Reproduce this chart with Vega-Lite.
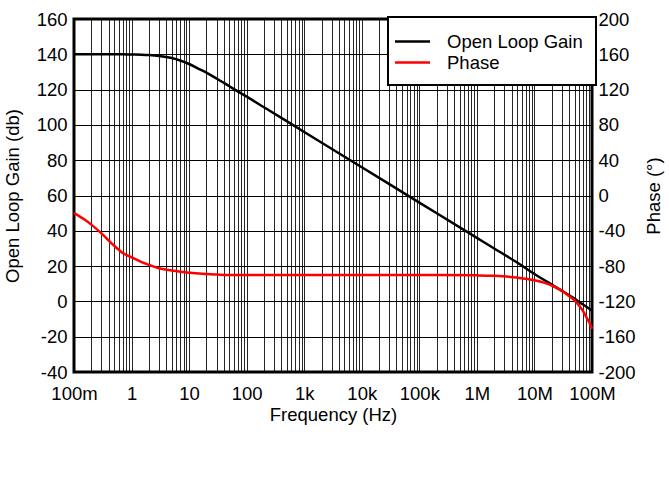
{
  "$schema": "https://vega.github.io/schema/vega-lite/v6.json",
  "width": 518,
  "height": 353,
  "autosize": {"type": "none"},
  "padding": {"left": 74, "top": 19, "right": 77, "bottom": 108},
  "background": "white",
  "config": {
    "font": "Liberation Sans",
    "view": {"stroke": "black", "strokeWidth": 3, "fill": "white"},
    "axis": {"labelFont": "Liberation Sans", "titleFont": "Liberation Sans", "labelFontSize": 18.5, "titleFontSize": 18.5, "labelColor": "black", "titleColor": "black", "titleFontWeight": "normal", "ticks": false, "domain": false},
    "legend": {"labelFont": "Liberation Sans", "labelFontSize": 18.5, "labelColor": "black", "strokeWidth": 2}
  },
  "data": {"values": [
    {"f": 0.1, "gain": 140, "phase": -20},
    {"f": 0.15, "gain": 140, "phase": -27},
    {"f": 0.2, "gain": 140, "phase": -33},
    {"f": 0.3, "gain": 140, "phase": -43},
    {"f": 0.5, "gain": 140, "phase": -57},
    {"f": 0.7, "gain": 140, "phase": -65},
    {"f": 1, "gain": 139.9, "phase": -70},
    {"f": 1.5, "gain": 139.8, "phase": -75.5},
    {"f": 2, "gain": 139.6, "phase": -78.5},
    {"f": 3, "gain": 139.1, "phase": -82.5},
    {"f": 5, "gain": 137.9, "phase": -85},
    {"f": 7, "gain": 136.5, "phase": -86.5},
    {"f": 10, "gain": 134.5, "phase": -87.5},
    {"f": 15, "gain": 131.6, "phase": -88.5},
    {"f": 20, "gain": 129.6, "phase": -89},
    {"f": 30, "gain": 126.3, "phase": -89.5},
    {"f": 50, "gain": 121.9, "phase": -90},
    {"f": 70, "gain": 119.0, "phase": -90},
    {"f": 100, "gain": 116.0, "phase": -90},
    {"f": 200, "gain": 110.0, "phase": -90},
    {"f": 1000, "gain": 96, "phase": -90},
    {"f": 10000, "gain": 76, "phase": -90},
    {"f": 100000, "gain": 56, "phase": -90},
    {"f": 1000000, "gain": 36, "phase": -90.5},
    {"f": 2000000, "gain": 30, "phase": -91},
    {"f": 5000000, "gain": 22, "phase": -93},
    {"f": 10000000, "gain": 15.5, "phase": -96},
    {"f": 15000000, "gain": 12, "phase": -99},
    {"f": 20000000, "gain": 9.5, "phase": -102},
    {"f": 30000000, "gain": 6, "phase": -108},
    {"f": 40000000, "gain": 3.5, "phase": -114},
    {"f": 50000000, "gain": 1.5, "phase": -119},
    {"f": 60000000, "gain": -0.3, "phase": -125},
    {"f": 70000000, "gain": -1.8, "phase": -131},
    {"f": 80000000, "gain": -3, "phase": -138},
    {"f": 90000000, "gain": -4.2, "phase": -144},
    {"f": 100000000, "gain": -5.3, "phase": -151}
  ]},
  "encoding": {
    "x": {
      "field": "f", "type": "quantitative",
      "scale": {"type": "log", "domain": [0.1, 100000000], "nice": false},
      "axis": {
        "title": "Frequency (Hz)",
        "values": [0.1,0.2,0.3,0.4,0.5,0.6,0.7,0.8,0.9,1,2,3,4,5,6,7,8,9,10,20,30,40,50,60,70,80,90,100,200,300,400,500,600,700,800,900,1000,2000,3000,4000,5000,6000,7000,8000,9000,10000,20000,30000,40000,50000,60000,70000,80000,90000,100000,200000,300000,400000,500000,600000,700000,800000,900000,1000000,2000000,3000000,4000000,5000000,6000000,7000000,8000000,9000000,10000000,20000000,30000000,40000000,50000000,60000000,70000000,80000000,90000000,100000000],
        "labelExpr": "datum.value==0.1?'100m':datum.value==1?'1':datum.value==10?'10':datum.value==100?'100':datum.value==1000?'1k':datum.value==10000?'10k':datum.value==100000?'100k':datum.value==1000000?'1M':datum.value==10000000?'10M':datum.value==100000000?'100M':''",
        "labelPadding": 12,
        "titlePadding": 3,
        "labelOverlap": false,
        "labelBound": false,
        "labelFlush": false,
        "grid": true, "gridColor": "black", "gridOpacity": 0.85, "gridWidth": 1
      }
    }
  },
  "layer": [
    {
      "mark": {"type": "line", "strokeWidth": 2.5, "interpolate": "monotone"},
      "encoding": {
        "y": {"field": "gain", "type": "quantitative",
          "scale": {"domain": [-40, 160], "nice": false},
          "axis": {"orient": "left", "title": "Open Loop Gain (db)", "values": [-40,-20,0,20,40,60,80,100,120,140,160], "labelExpr": "toString(datum.value)", "labelPadding": 7, "titlePadding": 14, "grid": true, "gridColor": "black", "gridWidth": 1}},
        "color": {"datum": "Open Loop Gain", "type": "nominal",
          "scale": {"domain": ["Open Loop Gain", "Phase"], "range": ["black", "red"]},
          "legend": {"title": null, "orient": "none", "legendX": 314, "legendY": -2, "strokeColor": "black", "fillColor": "white", "padding": 13, "rowPadding": 0, "symbolType": "M-1.75,0H1.75", "symbolSize": 400, "symbolStrokeWidth": 2.5, "labelOffset": 23}}
      }
    },
    {
      "mark": {"type": "line", "strokeWidth": 2.5, "interpolate": "monotone"},
      "encoding": {
        "y": {"field": "phase", "type": "quantitative",
          "scale": {"domain": [-200, 200], "nice": false},
          "axis": {"orient": "right", "title": "Phase (°)", "titleAngle": 270, "values": [-200,-160,-120,-80,-40,0,40,80,120,160,200], "labelExpr": "toString(datum.value)", "labelPadding": 6, "titlePadding": 28, "grid": false}},
        "color": {"datum": "Phase", "type": "nominal"}
      }
    }
  ],
  "resolve": {"scale": {"y": "independent"}}
}
